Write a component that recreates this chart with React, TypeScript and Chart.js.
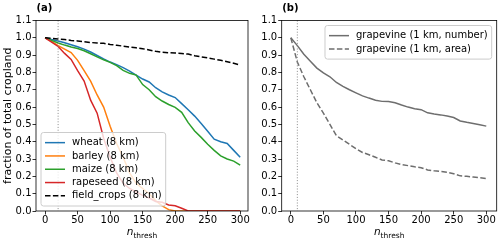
import React, { useEffect, useRef } from 'react';
import { Chart, registerables } from 'chart.js';

Chart.register(...registerables);

const FONT = 'DejaVu Sans';

// n_thresh grid shared by every series
const nThresh = [0, 10, 20, 30, 40, 50, 60, 70, 80, 90, 100, 110, 120, 130, 140, 150, 160, 170, 180, 190, 200, 210, 220, 230, 240, 250, 260, 270, 280, 290, 300];

// panel (a)
const wheat = [1.0, 0.99, 0.982, 0.972, 0.96, 0.948, 0.935, 0.918, 0.898, 0.878, 0.86, 0.845, 0.828, 0.808, 0.785, 0.762, 0.745, 0.712, 0.688, 0.67, 0.655, 0.62, 0.585, 0.548, 0.505, 0.46, 0.415, 0.4, 0.39, 0.35, 0.31];
const barley = [1.0, 0.98, 0.955, 0.935, 0.915, 0.87, 0.81, 0.75, 0.67, 0.6, 0.49, 0.39, 0.31, 0.22, 0.16, 0.13, 0.1, 0.06, 0.03, 0.008, 0, 0, 0, 0, 0, 0, 0, 0, 0, 0, 0];
const maize = [1.0, 0.985, 0.97, 0.958, 0.947, 0.938, 0.925, 0.908, 0.89, 0.873, 0.858, 0.84, 0.812, 0.795, 0.785, 0.73, 0.7, 0.66, 0.635, 0.615, 0.598, 0.57, 0.51, 0.462, 0.425, 0.385, 0.35, 0.318, 0.3, 0.288, 0.265];
const rapeseed = [1.0, 0.975, 0.95, 0.91, 0.875, 0.81, 0.75, 0.64, 0.565, 0.42, 0.31, 0.22, 0.16, 0.13, 0.11, 0.09, 0.075, 0.055, 0.05, 0.035, 0.03, 0.016, 0, 0, 0, 0, 0, 0, 0, 0, 0];
const fieldCrops = [1.0, 0.997, 0.993, 0.99, 0.985, 0.982, 0.978, 0.973, 0.97, 0.968, 0.962, 0.957, 0.952, 0.947, 0.942, 0.937, 0.93, 0.922, 0.917, 0.914, 0.912, 0.91, 0.906, 0.897, 0.89, 0.884, 0.877, 0.87, 0.862, 0.853, 0.843];

// panel (b)
const grapeNumber = [1.0, 0.955, 0.905, 0.865, 0.825, 0.797, 0.775, 0.742, 0.72, 0.7, 0.682, 0.665, 0.652, 0.64, 0.633, 0.632, 0.625, 0.612, 0.6, 0.59, 0.585, 0.567, 0.56, 0.555, 0.548, 0.54, 0.52, 0.512, 0.505, 0.498, 0.49];
const grapeArea = [1.0, 0.86, 0.775, 0.7, 0.625, 0.565, 0.5, 0.435, 0.41, 0.385, 0.36, 0.338, 0.325, 0.31, 0.295, 0.29, 0.278, 0.268, 0.262, 0.255, 0.25, 0.237, 0.232, 0.228, 0.224, 0.215, 0.203, 0.2, 0.196, 0.192, 0.188];

const thresholdA = 20;
const thresholdB = 10;

type Item = { label: string; data: number[]; color: string; dash: number[] };

const itemsA: Item[] = [
  { label: 'wheat (8 km)', data: wheat, color: '#1f77b4', dash: [] },
  { label: 'barley (8 km)', data: barley, color: '#ff7f0e', dash: [] },
  { label: 'maize (8 km)', data: maize, color: '#2ca02c', dash: [] },
  { label: 'rapeseed (8 km)', data: rapeseed, color: '#d62728', dash: [] },
  { label: 'field_crops (8 km)', data: fieldCrops, color: '#000000', dash: [5.5, 2.4] },
];
const itemsB: Item[] = [
  { label: 'grapevine (1 km, number)', data: grapeNumber, color: '#6e6e6e', dash: [] },
  { label: 'grapevine (1 km, area)', data: grapeArea, color: '#6e6e6e', dash: [5.5, 2.4] },
];

function makeDeco(panel: string, threshold: number, items: Item[], legendPos: 'lowerleft' | 'upperright') {
  return {
    id: 'deco' + panel,
    afterDatasetsDraw(chart: any) {
      const ctx = chart.ctx as CanvasRenderingContext2D;
      const a = chart.chartArea;
      const xs = chart.scales.x;
      ctx.save();
      // threshold dotted line
      const tx = xs.getPixelForValue(threshold);
      ctx.strokeStyle = '#8a8a8a';
      ctx.lineWidth = 1;
      ctx.setLineDash([1, 1.8]);
      ctx.beginPath();
      ctx.moveTo(tx, a.top);
      ctx.lineTo(tx, a.bottom);
      ctx.stroke();
      ctx.setLineDash([]);
      // spines
      ctx.strokeStyle = '#000';
      ctx.lineWidth = 0.8;
      ctx.strokeRect(a.left, a.top, a.right - a.left, a.bottom - a.top);
      // legend
      ctx.font = `10px "${FONT}"`;
      const rowH = 13.3;
      const pad = 3.5;
      let maxW = 0;
      items.forEach((it) => { maxW = Math.max(maxW, ctx.measureText(it.label).width); });
      const w = 4 + 27 + maxW + 4;
      const h = 2 * pad + rowH * items.length;
      let lx: number, ly: number;
      if (legendPos === 'lowerleft') { lx = a.left + 5; ly = a.bottom - 5 - h; }
      else { lx = a.right - 5 - w; ly = a.top + 5; }
      ctx.fillStyle = 'rgba(255,255,255,0.8)';
      ctx.strokeStyle = '#cccccc';
      ctx.lineWidth = 1;
      ctx.beginPath();
      const r = 2.5;
      ctx.moveTo(lx + r, ly);
      ctx.lineTo(lx + w - r, ly);
      ctx.arcTo(lx + w, ly, lx + w, ly + r, r);
      ctx.lineTo(lx + w, ly + h - r);
      ctx.arcTo(lx + w, ly + h, lx + w - r, ly + h, r);
      ctx.lineTo(lx + r, ly + h);
      ctx.arcTo(lx, ly + h, lx, ly + h - r, r);
      ctx.lineTo(lx, ly + r);
      ctx.arcTo(lx, ly, lx + r, ly, r);
      ctx.closePath();
      ctx.fill();
      ctx.stroke();
      items.forEach((it, i) => {
        const cy = ly + pad + rowH * (i + 0.5);
        ctx.strokeStyle = it.color;
        ctx.lineWidth = 1.5;
        ctx.setLineDash(it.dash);
        ctx.beginPath();
        ctx.moveTo(lx + 4, cy);
        ctx.lineTo(lx + 24, cy);
        ctx.stroke();
        ctx.setLineDash([]);
        ctx.fillStyle = '#000';
        ctx.textAlign = 'left';
        ctx.textBaseline = 'middle';
        ctx.fillText(it.label, lx + 31, cy);
      });
      // panel label
      ctx.font = `bold 10px "${FONT}"`;
      ctx.fillStyle = '#000';
      ctx.textAlign = 'left';
      ctx.textBaseline = 'alphabetic';
      ctx.fillText(panel, a.left + 0.5, 11);
      // x axis title: n_thresh
      ctx.font = `italic 10.5px "${FONT}"`;
      const nW = ctx.measureText('n').width;
      ctx.font = `7.5px "${FONT}"`;
      const sW = ctx.measureText('thresh').width;
      const cx = (a.left + a.right) / 2;
      const x0 = cx - (nW + sW) / 2;
      ctx.font = `italic 10.5px "${FONT}"`;
      ctx.fillText('n', x0, 235);
      ctx.font = `7.5px "${FONT}"`;
      ctx.fillText('thresh', x0 + nW, 237.5);
      ctx.restore();
    },
  };
}

function makeConfig(panel: string, items: Item[], threshold: number, legendPos: 'lowerleft' | 'upperright', yWidth: number, padRight: number, xMax: number, yTitle: string | null): any {
  return {
    type: 'line',
    data: {
      datasets: items.map((it, i) => ({
        label: it.label,
        data: nThresh.map((n, j) => ({ x: n, y: it.data[j] })),
        borderColor: it.color,
        backgroundColor: it.color,
        borderWidth: 1.5,
        borderDash: it.dash,
        pointRadius: 0,
        tension: 0,
        fill: false,
        order: items.length - i,
      })),
    },
    options: {
      animation: false,
      responsive: false,
      devicePixelRatio: 1,
      layout: { padding: { top: 20.5, right: padRight, left: 0, bottom: 0 } },
      plugins: { legend: { display: false }, tooltip: { enabled: false } },
      scales: {
        x: {
          type: 'linear',
          min: -14,
          max: xMax,
          border: { display: false },
          grid: { display: true, drawOnChartArea: false, drawTicks: true, tickLength: 3.5, tickColor: '#000', color: '#000', lineWidth: 0.8 },
          ticks: { stepSize: 50, includeBounds: false, color: '#000', font: { family: FONT, size: 10 }, padding: 0, maxRotation: 0, autoSkip: false },
          afterFit: (s: any) => { s.height = 30; },
        },
        y: {
          type: 'linear',
          min: 0,
          max: 1.1,
          border: { display: false },
          grid: { display: true, drawOnChartArea: false, drawTicks: true, tickLength: 3.5, tickColor: '#000', color: '#000', lineWidth: 0.8 },
          ticks: { stepSize: 0.1, includeBounds: false, color: '#000', font: { family: FONT, size: 10 }, padding: 1, autoSkip: false, callback: (v: any) => Number(v).toFixed(1) },
          title: yTitle ? { display: true, text: yTitle, color: '#000', font: { family: FONT, size: 11 }, padding: { top: 2, bottom: 0 } } : { display: false },
          afterFit: (s: any) => { s.width = yWidth; },
        },
      },
    },
    plugins: [makeDeco(panel, threshold, items, legendPos)],
  };
}

function Panel(props: { cfg: () => any }) {
  const ref = useRef<HTMLCanvasElement>(null);
  useEffect(() => {
    if (!ref.current) return;
    const chart = new Chart(ref.current, props.cfg());
    return () => chart.destroy();
  }, []);
  return <canvas ref={ref} width={250} height={241} style={{ display: 'block', width: 250, height: 241 }} />;
}

export default function App() {
  return (
    <div style={{ position: 'absolute', left: 0, top: 0, width: 500, height: 241, display: 'flex', background: '#fff' }}>
      <Panel cfg={() => makeConfig('(a)', itemsA, thresholdA, 'lowerleft', 36, 2, 312, 'fraction of total cropland')} />
      <Panel cfg={() => makeConfig('(b)', itemsB, thresholdB, 'upperright', 31.7, 3.3, 316, null)} />
    </div>
  );
}
